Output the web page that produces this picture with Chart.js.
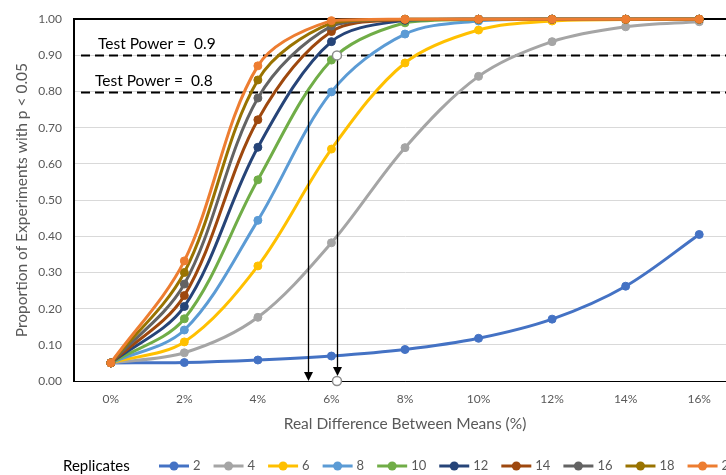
<!DOCTYPE html>
<html>
<head>
<meta charset="utf-8">
<script src="https://cdn.jsdelivr.net/npm/chart.js@4.4.1/dist/chart.umd.min.js"></script>
<style>
  html, body { margin: 0; padding: 0; background: #fff; overflow: hidden; }
  #wrap { width: 760px; height: 475px; }
</style>
</head>
<body>
<div id="wrap"><canvas id="c" width="760" height="475"></canvas></div>
<script>
// Real difference between group means (%)
const diffPct = [0, 2, 4, 6, 8, 10, 12, 14, 16];

// Number of replicates per group, one curve each
const replicates = [2, 4, 6, 8, 10, 12, 14, 16, 18, 20];

// Proportion of simulated experiments reaching p < 0.05
const power2  = [0.05, 0.051, 0.058, 0.069, 0.087, 0.118, 0.171, 0.262, 0.405];
const power4  = [0.05, 0.078, 0.176, 0.382, 0.645, 0.842, 0.938, 0.979, 0.993];
const power6  = [0.05, 0.108, 0.318, 0.641, 0.879, 0.970, 0.995, 0.999, 1.000];
const power8  = [0.05, 0.141, 0.444, 0.799, 0.959, 0.995, 1.000, 1.000, 1.000];
const power10 = [0.05, 0.172, 0.556, 0.887, 0.990, 0.999, 1.000, 1.000, 1.000];
const power12 = [0.05, 0.206, 0.646, 0.938, 0.997, 1.000, 1.000, 1.000, 1.000];
const power14 = [0.05, 0.236, 0.722, 0.966, 0.999, 1.000, 1.000, 1.000, 1.000];
const power16 = [0.05, 0.268, 0.782, 0.981, 1.000, 1.000, 1.000, 1.000, 1.000];
const power18 = [0.05, 0.300, 0.832, 0.990, 1.000, 1.000, 1.000, 1.000, 1.000];
const power20 = [0.05, 0.332, 0.871, 0.996, 1.000, 1.000, 1.000, 1.000, 1.000];

// Target test power levels and the difference at which the 10-replicate curve reaches each
const powerLevels  = [0.9, 0.8];
const crossingDiff = [6.15, 5.35];

// Y axis tick values
const yTicks = [0, 0.1, 0.2, 0.3, 0.4, 0.5, 0.6, 0.7, 0.8, 0.9, 1.0];

const powerSeries = [power2, power4, power6, power8, power10, power12, power14, power16, power18, power20];
const seriesColors = ['#4472C4', '#A5A5A5', '#FFC000', '#5B9BD5', '#70AD47',
                      '#264478', '#9E480E', '#636363', '#997300', '#ED7D31'];

const FONT = 'Lato, "Open Sans", sans-serif';
const GREY_TEXT = '#595959';

const datasets = replicates.map((r, i) => ({
  label: String(r),
  data: powerSeries[i].map((p, j) => ({ x: diffPct[j], y: p })),
  borderColor: seriesColors[i],
  backgroundColor: seriesColors[i],
  pointBackgroundColor: seriesColors[i],
  pointBorderColor: seriesColors[i],
  borderWidth: 3,
  pointRadius: 4,
  pointBorderWidth: 1,
  tension: 0.33,
  clip: false,
  order: replicates.length - 1 - i
}));

function arrowDown(ctx, x, y0, y1) {
  ctx.beginPath();
  ctx.moveTo(x, y0);
  ctx.lineTo(x, y1 - 7);
  ctx.stroke();
  ctx.beginPath();
  ctx.moveTo(x, y1);
  ctx.lineTo(x - 4.5, y1 - 9);
  ctx.lineTo(x + 4.5, y1 - 9);
  ctx.closePath();
  ctx.fill();
}

const overlay = {
  id: 'overlay',
  beforeDatasetsDraw(chart) {
    const { ctx, chartArea: a, scales: { y } } = chart;
    ctx.save();
    // target power reference lines
    ctx.strokeStyle = '#000';
    ctx.lineWidth = 2;
    ctx.setLineDash([9, 5]);
    powerLevels.forEach(p => {
      const py = Math.round(y.getPixelForValue(p)) + 0.5;
      ctx.beginPath();
      ctx.moveTo(a.left + 7, py);
      ctx.lineTo(a.right, py);
      ctx.stroke();
    });
    ctx.restore();
  },
  afterDatasetsDraw(chart) {
    const { ctx, chartArea: a, scales: { x, y } } = chart;
    ctx.save();
    // labels for the power lines
    ctx.fillStyle = '#000';
    ctx.font = '15.5px ' + FONT;
    ctx.textBaseline = 'middle';
    ctx.textAlign = 'left';
    powerLevels.forEach((p, i) => {
      const py = y.getPixelForValue(p);
      ctx.fillText('Test Power =  ' + p.toFixed(1), a.left + (i === 0 ? 24 : 21), py - 11);
    });
    // drop arrows from each crossing to the axis
    ctx.strokeStyle = '#000';
    ctx.fillStyle = '#000';
    ctx.lineWidth = 1.3;
    powerLevels.forEach((p, i) => {
      const px = Math.round(x.getPixelForValue(crossingDiff[i])) + 0.5;
      const y0 = y.getPixelForValue(p);
      const yEnd = y.getPixelForValue(0) - (i === 0 ? 5 : 0);
      arrowDown(ctx, px, y0, yEnd);
    });
    // open markers at the 0.9 crossing
    const cx = x.getPixelForValue(crossingDiff[0]);
    [powerLevels[0], 0].forEach(v => {
      ctx.beginPath();
      ctx.arc(cx, y.getPixelForValue(v), 4.5, 0, Math.PI * 2);
      ctx.fillStyle = '#fff';
      ctx.fill();
      ctx.strokeStyle = '#8c8c8c';
      ctx.lineWidth = 1.5;
      ctx.stroke();
    });
    ctx.restore();
  },
  afterDraw(chart) {
    const { ctx } = chart;
    ctx.save();
    const ly = 466;
    ctx.textBaseline = 'middle';
    ctx.textAlign = 'left';
    ctx.fillStyle = '#000';
    ctx.font = '15px ' + FONT;
    ctx.fillText('Replicates', 63, ly);
    ctx.font = '13px ' + FONT;
    let lx = 159;
    chart.data.datasets.forEach(ds => {
      ctx.strokeStyle = ds.borderColor;
      ctx.fillStyle = ds.borderColor;
      ctx.lineWidth = 3;
      ctx.beginPath();
      ctx.moveTo(lx, ly);
      ctx.lineTo(lx + 30, ly);
      ctx.stroke();
      ctx.beginPath();
      ctx.arc(lx + 15, ly, 4.5, 0, Math.PI * 2);
      ctx.fill();
      ctx.fillStyle = GREY_TEXT;
      ctx.fillText(ds.label, lx + 34, ly);
      lx += 34 + ctx.measureText(ds.label).width + 13;
    });
    ctx.restore();
  }
};

new Chart(document.getElementById('c'), {
  type: 'line',
  data: { datasets },
  plugins: [overlay],
  options: {
    responsive: false,
    devicePixelRatio: 1,
    animation: false,
    layout: { padding: { top: 18, right: 24, bottom: 0, left: 0 } },
    plugins: {
      legend: { display: false },
      tooltip: { enabled: false },
      title: { display: false }
    },
    scales: {
      x: {
        type: 'linear',
        min: -1,
        max: 17,
        afterBuildTicks: s => { s.ticks = diffPct.map(v => ({ value: v })); },
        afterFit: s => { s.height = 94; },
        grid: { display: false },
        border: { display: true, color: '#000', width: 1 },
        ticks: {
          color: GREY_TEXT,
          font: { family: FONT, size: 12 },
          padding: 3,
          callback: v => v + '%'
        },
        title: {
          display: true,
          text: 'Real Difference Between Means (%)',
          color: GREY_TEXT,
          font: { family: FONT, size: 15.5 },
          padding: { top: 0, bottom: 42 }
        }
      },
      y: {
        min: 0,
        max: 1,
        afterBuildTicks: s => { s.ticks = yTicks.map(v => ({ value: v })); },
        afterFit: s => { s.width = 74; },
        grid: {
          drawTicks: false,
          color: c => (c.tick && (c.tick.value === 1 || c.tick.value === 0)) ? '#000' : '#D9D9D9',
          lineWidth: c => (c.tick && c.tick.value === 1) ? 2 : 1
        },
        border: { display: true, color: '#000', width: 2 },
        ticks: {
          color: GREY_TEXT,
          font: { family: FONT, size: 12 },
          padding: 12,
          callback: v => Number(v).toFixed(2)
        },
        title: {
          display: true,
          text: 'Proportion of Experiments with p < 0.05',
          color: GREY_TEXT,
          font: { family: FONT, size: 15.5 },
          padding: { top: 13, bottom: 0 }
        }
      }
    }
  }
});
</script>
</body>
</html>
